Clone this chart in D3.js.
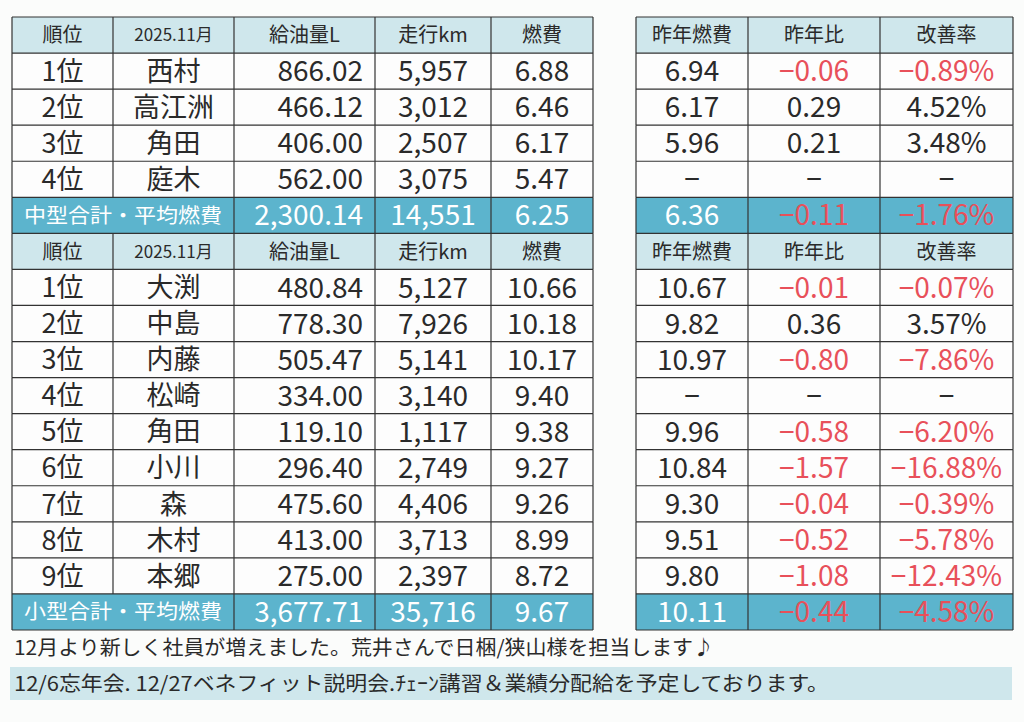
<!DOCTYPE html><html><head><meta charset="utf-8"><script src="https://cdn.jsdelivr.net/npm/d3@7"></script>
<style>body{margin:0;background:#fbfcfb}</style></head><body><svg id="s" width="1024" height="722"></svg><script>
const headers=["順位","2025.11月","給油量L","走行km","燃費"];
const headersR=["昨年燃費","昨年比","改善率"];
const midRows=[["1位","西村","866.02","5,957","6.88"],["2位","高江洲","466.12","3,012","6.46"],["3位","角田","406.00","2,507","6.17"],["4位","庭木","562.00","3,075","5.47"]];
const midR=[["6.94","−0.06","−0.89%"],["6.17","0.29","4.52%"],["5.96","0.21","3.48%"],["−","−","−"]];
const midTotal=["中型合計・平均燃費","2,300.14","14,551","6.25"];
const midTotalR=["6.36","−0.11","−1.76%"];
const smRows=[["1位","大渕","480.84","5,127","10.66"],["2位","中島","778.30","7,926","10.18"],["3位","内藤","505.47","5,141","10.17"],["4位","松崎","334.00","3,140","9.40"],["5位","角田","119.10","1,117","9.38"],["6位","小川","296.40","2,749","9.27"],["7位","森","475.60","4,406","9.26"],["8位","木村","413.00","3,713","8.99"],["9位","本郷","275.00","2,397","8.72"]];
const smR=[["10.67","−0.01","−0.07%"],["9.82","0.36","3.57%"],["10.97","−0.80","−7.86%"],["−","−","−"],["9.96","−0.58","−6.20%"],["10.84","−1.57","−16.88%"],["9.30","−0.04","−0.39%"],["9.51","−0.52","−5.78%"],["9.80","−1.08","−12.43%"]];
const smTotal=["小型合計・平均燃費","3,677.71","35,716","9.67"];
const smTotalR=["10.11","−0.44","−4.58%"];
const notes=["12月より新しく社員が増えました。荒井さんで日梱/狭山様を担当します♪","12/6忘年会.  12/27ベネフィット説明会.ﾁｪｰﾝ講習＆業績分配給を予定しております。"];

const svg=d3.select("#s");
const F="'Noto Sans CJK JP','Noto Sans',sans-serif";
const HB="#cfe7ec",TB="#5cb4cd",RED="#e8505a",TX="#2a2a2a",LN="#333";
const nRows=17;
const y=d3.scaleBand().domain(d3.range(nRows)).range([17,630]);
const xL=[12,113,234,375,491,593], xR=[636,748,880,1013];
const rows=[];
function block(rs,rr,tot,totR){
  rows.push({type:"h",l:headers,r:headersR});
  rs.forEach((d,i)=>rows.push({type:"d",l:d,r:rr[i]}));
  rows.push({type:"t",l:tot,r:totR});
}
block(midRows,midR,midTotal,midTotalR);block(smRows,smR,smTotal,smTotalR);
rows.forEach((row,i)=>{
  const y0=y(i),h=y.bandwidth(),cy=y0+h/2;
  const bg=row.type==="h"?HB:row.type==="t"?TB:"#fdfdfd";
  svg.append("rect").attr("x",xL[0]).attr("y",y0).attr("width",xL[5]-xL[0]).attr("height",h).attr("fill",bg);
  svg.append("rect").attr("x",xR[0]).attr("y",y0).attr("width",xR[3]-xR[0]).attr("height",h).attr("fill",bg);
  const txt=(x,t,size,col,anchor,ls)=>svg.append("text").attr("x",x).attr("y",cy).attr("dy","0.36em").attr("text-anchor",anchor||"middle")
    .attr("font-family",F).attr("font-size",size).attr("fill",col).attr("textLength",ls||null).attr("lengthAdjust",ls?"spacingAndGlyphs":null).text(t);
  if(row.type==="t"){
    txt((xL[0]+xL[2])/2,row.l[0],20,"#fff","middle",198);
    row.l.slice(1).forEach((t,j)=>txt(j==0?xL[3]-12:j==1?(xL[3]+xL[4])/2:(xL[4]+xL[5])/2,t,28,"#fff",j==0?"end":"middle"));
  } else {
    row.l.forEach((t,j)=>{
      const hdr=row.type==="h";
      const size=hdr?(j==1?17:20):(j<2?27:28);
      if(!hdr&&j==2) txt(xL[3]-12,t,size,TX,"end");
      else txt((xL[j]+xL[j+1])/2,t,size,TX);
    });
  }
  row.r.forEach((t,j)=>{
    const neg=t.startsWith("−")&&t.length>1&&j>0;
    const col=row.type==="t"?(j==0?"#fff":RED):(row.type==="h"?TX:(neg?RED:TX));
    txt((xR[j]+xR[j+1])/2,t,row.type==="h"?20:28,col);
  });
});
function grid(xs){
  rows.forEach((row,i)=>{
    svg.append("line").attr("x1",xs[0]).attr("x2",xs[xs.length-1]).attr("y1",y(i)).attr("y2",y(i)).attr("stroke",LN).attr("stroke-width",1.2);
  });
  svg.append("line").attr("x1",xs[0]).attr("x2",xs[xs.length-1]).attr("y1",630).attr("y2",630).attr("stroke",LN).attr("stroke-width",1.2);
  xs.forEach((x,k)=>{
    rows.forEach((row,i)=>{
      if(row.type==="t"&&xs===xL&&k==1) return;
      svg.append("line").attr("x1",x).attr("x2",x).attr("y1",y(i)).attr("y2",y(i)+y.bandwidth()).attr("stroke",LN).attr("stroke-width",1.2);
    });
  });
}
grid(xL);grid(xR);
svg.append("text").attr("x",14).attr("y",648).attr("dy","0.36em").attr("font-family",F).attr("font-size",20).attr("fill",TX).attr("textLength",700).attr("lengthAdjust","spacingAndGlyphs").text(notes[0]);
svg.append("rect").attr("x",10).attr("y",667).attr("width",1002).attr("height",33).attr("fill",HB);
svg.append("text").attr("x",14).attr("y",684).attr("dy","0.36em").attr("font-family",F).attr("font-size",20).attr("fill",TX).attr("textLength",815).attr("lengthAdjust","spacingAndGlyphs").text(notes[1]);
</script></body></html>
